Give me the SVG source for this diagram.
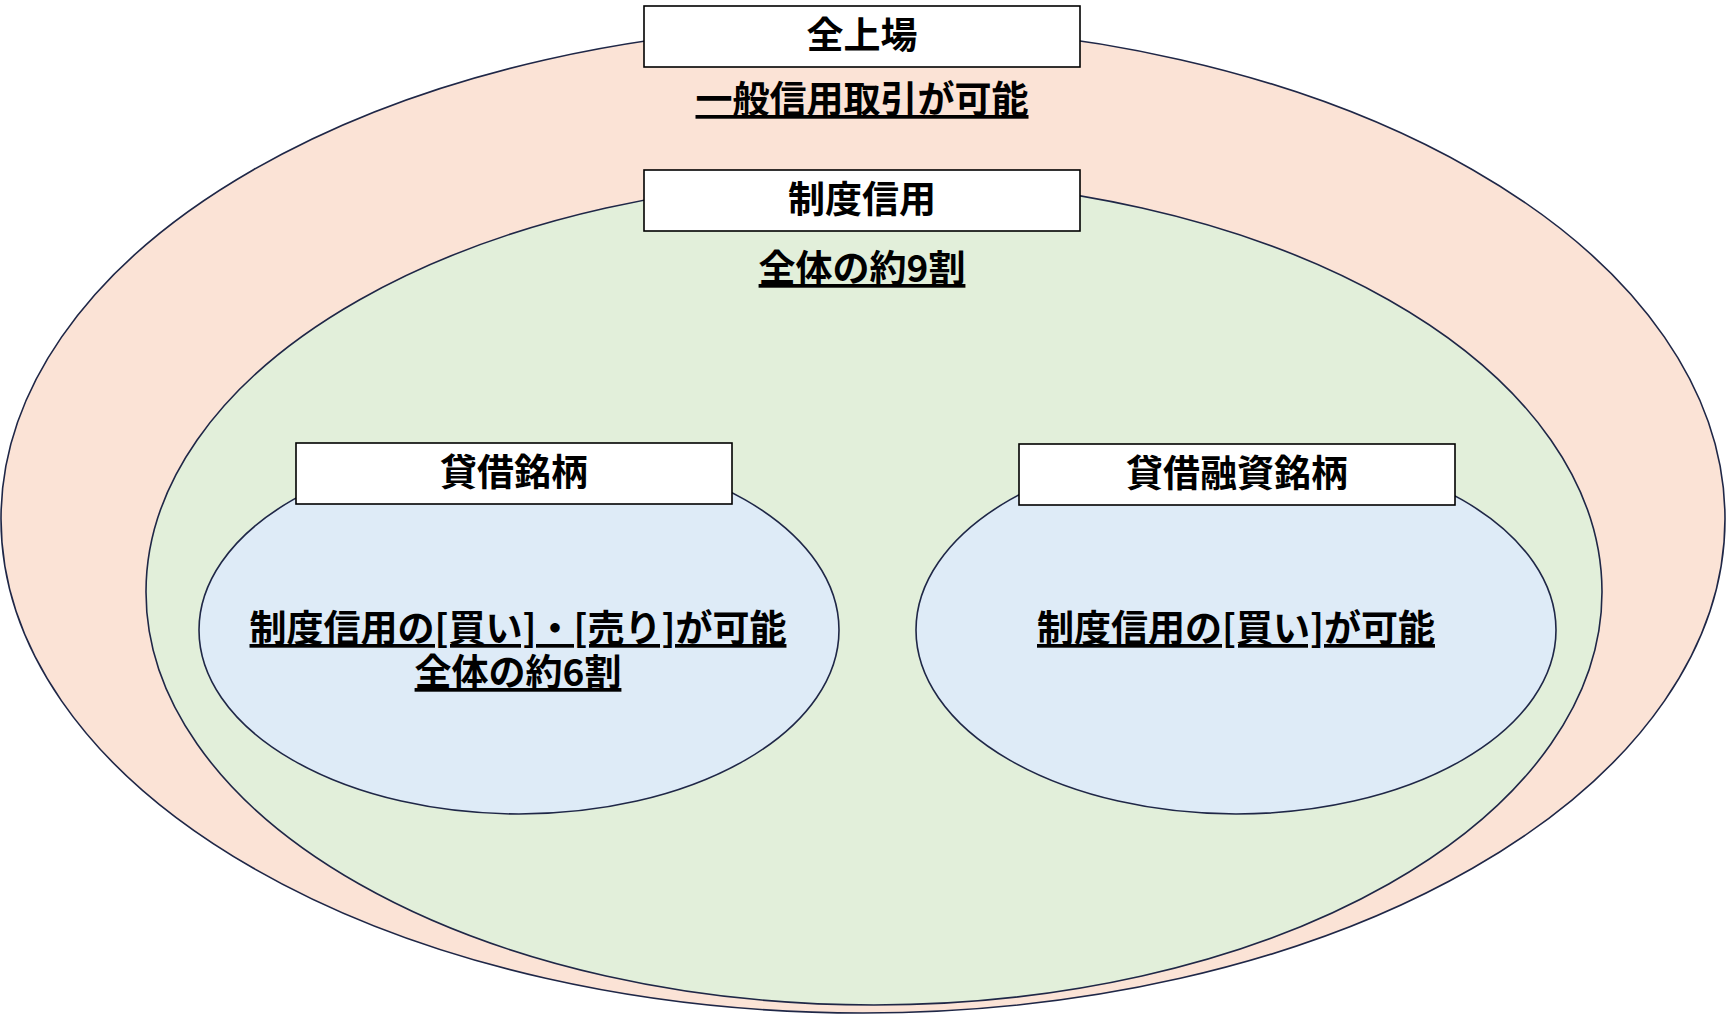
<svg xmlns="http://www.w3.org/2000/svg" width="1727" height="1015" viewBox="0 0 1727 1015">
<style>
.e{stroke:#1f2747;stroke-width:1.6}
.b{fill:#fff;stroke:#000;stroke-width:1.6}
text{font-family:"Noto Sans CJK JP","Noto Sans",sans-serif;font-weight:bold;font-size:37px;text-anchor:middle;fill:#000}
.u{text-decoration:underline}
</style>
<rect width="1727" height="1015" fill="#fff"/>
<g id="all"><ellipse class="e" cx="863" cy="519" rx="862" ry="494" fill="#fbe3d6"/></g>
<g id="seido"><ellipse class="e" cx="874" cy="592" rx="728" ry="413" fill="#e2efda"/></g>
<g id="taishaku"><ellipse class="e" cx="519" cy="630" rx="320" ry="184" fill="#deebf7"/></g>
<g id="yushi"><ellipse class="e" cx="1236" cy="630" rx="320" ry="184" fill="#deebf7"/></g>
<g id="all-label"><rect class="b" x="644" y="6" width="436" height="61"/><text x="862" y="49">全上場</text><text class="u" x="862" y="113">一般信用取引が可能</text></g>
<g id="seido-label"><rect class="b" x="644" y="170" width="436" height="61"/><text x="862" y="213">制度信用</text><text class="u" x="862" y="282">全体の約9割</text></g>
<g id="taishaku-label"><rect class="b" x="296" y="443" width="436" height="61"/><text x="514" y="486">貸借銘柄</text><text class="u" x="518" y="642">制度信用の[買い]・[売り]が可能</text><text class="u" x="518" y="686">全体の約6割</text></g>
<g id="yushi-label"><rect class="b" x="1019" y="444" width="436" height="61"/><text x="1237" y="487">貸借融資銘柄</text><text class="u" x="1236" y="642">制度信用の[買い]が可能</text></g>
<g id="connectors"/>
</svg>
